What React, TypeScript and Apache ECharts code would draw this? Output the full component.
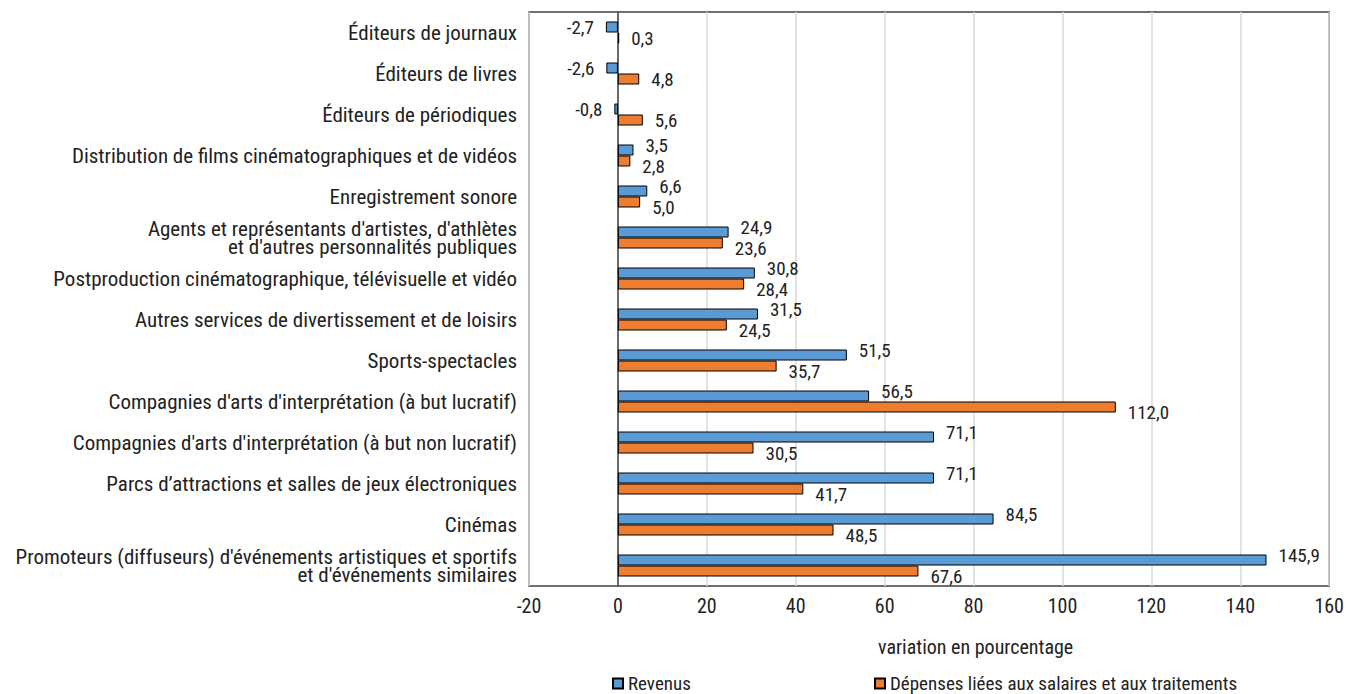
import React, { useEffect, useRef } from "react";
import * as echarts from "echarts";

const categories = [
  "Éditeurs de journaux",
  "Éditeurs de livres",
  "Éditeurs de périodiques",
  "Distribution de films cinématographiques et de vidéos",
  "Enregistrement sonore",
  "Agents et représentants d'artistes, d'athlètes\net d'autres personnalités publiques",
  "Postproduction cinématographique, télévisuelle et vidéo",
  "Autres services de divertissement et de loisirs",
  "Sports-spectacles",
  "Compagnies d'arts d'interprétation (à but lucratif)",
  "Compagnies d'arts d'interprétation (à but non lucratif)",
  "Parcs d’attractions et salles de jeux électroniques",
  "Cinémas",
  "Promoteurs (diffuseurs) d'événements artistiques et sportifs\net d'événements similaires",
];

const revenus = [-2.7, -2.6, -0.8, 3.5, 6.6, 24.9, 30.8, 31.5, 51.5, 56.5, 71.1, 71.1, 84.5, 145.9];
const depenses = [0.3, 4.8, 5.6, 2.8, 5.0, 23.6, 28.4, 24.5, 35.7, 112.0, 30.5, 41.7, 48.5, 67.6];

const seriesNames = ["Revenus", "Dépenses liées aux salaires et aux traitements"];
const axisTitle = "variation en pourcentage";

const FONT = "'Liberation Sans Narrow', 'Roboto Condensed', 'DejaVu Sans Condensed', Roboto, sans-serif";
const fmt = (v: number) => v.toFixed(1).replace(".", ",");

function mkData(vals: number[], other: number[], dy: number) {
  return vals.map((v, i) => ({
    value: v,
    label: {
      position: v < 0 ? "left" : "right",
      distance: 12,
      offset: [0, v > 0 && other[i] > 0 ? dy : 0],
    },
  }));
}

export default function App() {
  const ref = useRef<HTMLDivElement>(null);
  useEffect(() => {
    if (!ref.current) return;
    const chart = echarts.init(ref.current, undefined, { renderer: "svg" });
    const labelBase = {
      show: true,
      fontFamily: FONT,
      fontSize: 19,
      lineHeight: 19,
      color: "#222",
      formatter: (p: any) => fmt(p.value),
    };
    const legendText = { fontFamily: FONT, fontSize: 19, color: "#222" };
    chart.setOption({
      animation: false,
      textStyle: { fontFamily: FONT },
      grid: {
        left: 529,
        right: 17,
        top: 12,
        bottom: 108,
        show: true,
        borderColor: "#404040",
        borderWidth: 1.5,
      },
      xAxis: {
        type: "value",
        min: -20,
        max: 160,
        interval: 20,
        axisLine: { show: false },
        axisTick: { show: false },
        splitLine: { show: true, lineStyle: { color: "#d9d9d9", width: 1.5 } },
        axisLabel: { fontFamily: FONT, fontSize: 20, color: "#222", margin: 10 },
      },
      yAxis: {
        type: "category",
        data: categories,
        inverse: true,
        axisLine: { show: true, onZero: true, lineStyle: { color: "#404040", width: 1.5 } },
        axisTick: { show: false },
        axisLabel: {
          fontFamily: FONT,
          fontSize: 21,
          color: "#222",
          lineHeight: 18,
          margin: 12,
          align: "right",
        },
      },
      legend: [
        {
          top: 669,
          left: 607,
          itemWidth: 10,
          itemHeight: 10,
          icon: "rect",
          textStyle: legendText,
          data: [seriesNames[0]],
        },
        {
          top: 669,
          left: 869,
          itemWidth: 10,
          itemHeight: 10,
          icon: "rect",
          textStyle: legendText,
          data: [seriesNames[1]],
        },
      ],
      graphic: [
        {
          type: "text",
          left: 878,
          top: 637,
          style: { text: axisTitle, font: `20px ${FONT}`, fill: "#222" },
        },
      ],
      series: [
        {
          name: seriesNames[0],
          type: "bar",
          data: mkData(revenus, depenses, -5),
          barWidth: 11,
          barGap: "0%",
          itemStyle: { color: "#5B9BD5", borderColor: "#000", borderWidth: 1 },
          label: labelBase,
        },
        {
          name: seriesNames[1],
          type: "bar",
          data: mkData(depenses, revenus, 5),
          barWidth: 11,
          barGap: "0%",
          itemStyle: { color: "#ED7D31", borderColor: "#000", borderWidth: 1 },
          label: labelBase,
        },
      ],
    });
    return () => chart.dispose();
  }, []);
  return <div ref={ref} style={{ width: 1347, height: 694, position: "absolute", left: 0, top: 0 }} />;
}
